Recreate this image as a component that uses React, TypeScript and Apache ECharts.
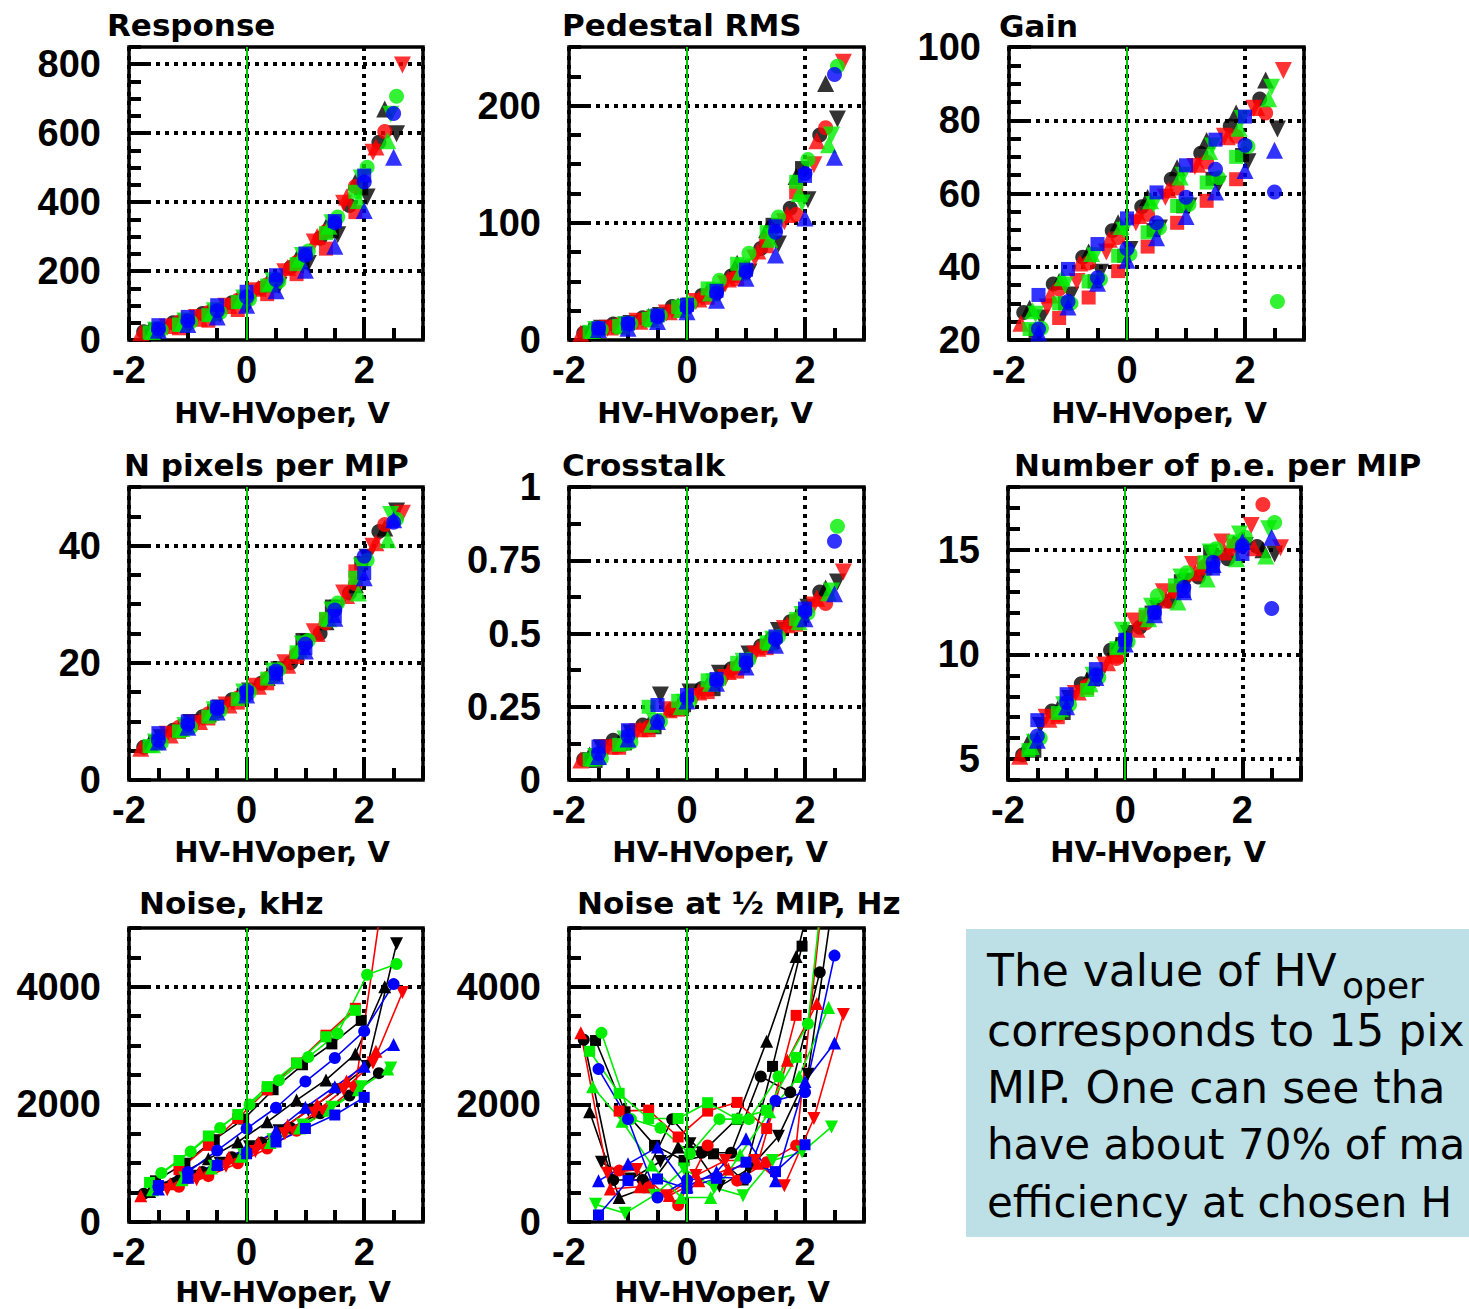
import React, { useEffect, useRef } from "react";
import * as echarts from "echarts";

const W = 1469;
const H = 1309;

// ---- series identity (colour / marker) ----
const SERIES_COLOR = ["black", "black", "black", "black", "red", "red", "red", "red", "green", "green", "green", "green", "blue", "blue", "blue"];
const SERIES_SHAPE = ["circle", "square", "up", "down", "circle", "square", "up", "down", "circle", "square", "up", "down", "circle", "square", "up"];

// ---- x values (HV - HVoper, V) per series ----
const X_BLK_CIRCLE = [-1.75, -1.25, -0.75, -0.25, 0.25, 0.75, 1.25, 1.75, 2.25];
const X_BLK_SQUARE = [-1.55, -1.05, -0.55, -0.05, 0.45, 0.95, 1.45, 1.95];
const X_BLK_UP = [-1.65, -1.15, -0.65, -0.15, 0.35, 0.85, 1.35, 1.85, 2.35];
const X_BLK_DOWN = [-1.45, -0.95, -0.45, 0.05, 0.55, 1.05, 1.55, 2.05, 2.55];
const X_RED_CIRCLE = [-1.15, -0.65, -0.15, 0.35, 0.85, 1.35, 1.85, 2.35];
const X_RED_SQUARE = [-1.15, -0.65, -0.15, 0.35, 0.85, 1.35, 1.85];
const X_RED_UP = [-1.8, -1.3, -0.8, -0.3, 0.2, 0.7, 1.2, 1.7, 2.2];
const X_RED_DOWN = [-1.35, -0.85, -0.35, 0.15, 0.65, 1.15, 1.65, 2.15, 2.65];
const X_GRN_CIRCLE = [-1.45, -0.95, -0.45, 0.05, 0.55, 1.05, 1.55, 2.05, 2.55];
const X_GRN_SQUARE = [-1.65, -1.15, -0.65, -0.15, 0.35, 0.85, 1.35, 1.85];
const X_GRN_UP = [-1.6, -1.1, -0.6, -0.1, 0.4, 0.9, 1.4, 1.9, 2.4];
const X_GRN_DOWN = [-1.55, -1.05, -0.55, -0.05, 0.45, 0.95, 1.45, 1.95, 2.45];
const X_BLU_CIRCLE = [-1.5, -1.0, -0.5, 0.0, 0.5, 1.0, 1.5, 2.0, 2.5];
const X_BLU_SQUARE = [-1.5, -1.0, -0.5, 0.0, 0.5, 1.0, 1.5, 2.0];
const X_BLU_UP = [-1.5, -1.0, -0.5, 0.0, 0.5, 1.0, 1.5, 2.0, 2.5];

const SERIES_X = [
  X_BLK_CIRCLE, X_BLK_SQUARE, X_BLK_UP, X_BLK_DOWN,
  X_RED_CIRCLE, X_RED_SQUARE, X_RED_UP, X_RED_DOWN,
  X_GRN_CIRCLE, X_GRN_SQUARE, X_GRN_UP, X_GRN_DOWN,
  X_BLU_CIRCLE, X_BLU_SQUARE, X_BLU_UP,
];

// ---- y values per panel (rows follow the series order above) ----
const RESPONSE_Y = [
  [24, 50, 77, 108, 150, 210, 295, 390, 574],
  [30, 52, 78, 112, 158, 225, 315, 440],
  [29, 55, 82, 118, 165, 235, 328, 458, 670],
  [28, 50, 75, 112, 158, 222, 305, 415, 598],
  [52, 80, 115, 160, 225, 315, 445, 605],
  [34, 56, 87, 133, 191, 265, 371],
  [21, 42, 63, 100, 150, 210, 300, 415, 560],
  [38, 65, 98, 143, 198, 284, 397, 545, 798],
  [29, 52, 80, 118, 170, 258, 357, 501, 707],
  [22, 45, 72, 110, 158, 220, 310, 430],
  [25, 48, 78, 115, 165, 235, 330, 405, 578],
  [28, 55, 85, 122, 172, 245, 340, 470, 655],
  [32, 55, 85, 125, 175, 245, 340, 458, 657],
  [43, 67, 101, 140, 188, 251, 345, 477],
  [28, 45, 67, 101, 143, 202, 272, 376, 530],
];

const PEDESTAL_Y = [
  [6, 13.7, 19, 28.5, 38, 54.7, 78, 112.5, 175],
  [9, 14, 20, 29, 42, 62, 98.3, 146.7],
  [8.5, 13, 20, 29, 42, 65.5, 94, 139.6, 218.8],
  [10, 14, 21, 29, 40, 58, 82, 119.7, 188.6],
  [13, 19, 28, 38.5, 55, 85, 107, 181],
  [11, 17, 25, 36, 52, 80, 126],
  [5.7, 11, 16, 24, 35, 52, 76, 107, 170],
  [10, 16, 23, 32.8, 47.9, 70, 101, 149.6, 237],
  [9, 14, 21, 31, 51, 74, 105, 154, 233.6],
  [7, 12, 18, 28, 44, 65, 92, 135],
  [8, 12, 18, 26, 40, 58, 86, 125, 166.7],
  [9, 13, 19, 28, 42, 62, 88, 117, 175],
  [10, 14, 20, 28, 40, 58, 92, 142, 226.5],
  [10, 14, 21, 30, 42, 60, 97, 140],
  [9, 10, 15.7, 24, 34, 52.7, 72.6, 104, 156],
];

const GAIN_Y = [
  [27.5, 35.3, 42.6, 49.8, 56.4, 63.9, 71, 78.4, 85.8],
  [22.5, 30, 36, 43, 50, 56.5, 64, 70.5],
  [28.7, 36, 44, 52, 58.9, 67, 74.5, 82, 91],
  [26, 32.3, 38.5, 44.7, 50.6, 56.6, 62.5, 68.7, 77.6],
  [33.9, 41, 48, 54.3, 61.5, 68.6, 75.6, 82],
  [26, 31.6, 38.8, 45.5, 52, 58, 63.9],
  [24.6, 32.3, 41, 47.5, 54, 61, 68, 75.5, 83.5],
  [29, 36, 44, 52, 59, 67.4, 75.6, 83.3, 93.6],
  [23.2, 30, 36.5, 43.5, 50.6, 57, 64.3, 72.8, 30.5],
  [23, 30, 36, 43, 49.4, 56.6, 63, 70],
  [28, 37, 43.6, 51, 58, 64.5, 71.5, 77.8, 85.9],
  [27, 35, 43, 50, 57, 65, 73, 80.5, 89],
  [23, 30.5, 37, 44.9, 52, 59, 66.6, 73.2, 60.4],
  [32.3, 39.4, 46.2, 53.2, 60.3, 67.7, 74.7, 81],
  [22, 29, 35.5, 41.8, 47.9, 53.7, 60.4, 66.3, 71.8],
];

const NPIX_Y = [
  [5.6, 8.5, 10.8, 13.7, 16.5, 20, 25, 31.9, 42.4],
  [6.5, 9.2, 11.8, 14.5, 18, 23.9, 29.6, 37],
  [6.3, 8.8, 11.3, 14.2, 17.5, 21.8, 27, 33.3, 43],
  [7.2, 9.8, 12.3, 15.2, 18.8, 23.5, 29.3, 38, 45.9],
  [9.0, 11.3, 14, 17.3, 21.5, 26.8, 33.5, 43.6],
  [8.2, 10.5, 13.2, 16.5, 21, 27.4, 35.6],
  [5.4, 7.7, 10, 12.8, 16, 19.6, 25, 31.5, 40.5],
  [7.8, 9.7, 12.8, 16, 20, 25.3, 31.9, 39.9, 45.5],
  [6.3, 9, 11.8, 15, 18.8, 23.8, 30.2, 37.5, 44.5],
  [5.8, 8.3, 10.8, 13.8, 17.3, 21.8, 27.5, 34.5],
  [6, 8.8, 11.5, 14.5, 18, 22.3, 27.5, 31.9, 41],
  [6.5, 9.3, 12, 15, 18.6, 23.2, 29, 36.5, 45.3],
  [6.8, 9.5, 12.2, 15.2, 18.6, 23.2, 29, 38.2, 44],
  [8, 10, 12.5, 14.8, 18.2, 22.5, 28, 35.3],
  [6.5, 9.0, 11.6, 14.5, 17.8, 22.0, 27.6, 34.5, 44.4],
];

const XTALK_Y = [
  [0.07, 0.136, 0.1875, 0.24, 0.3125, 0.38, 0.457, 0.54, 0.642],
  [0.065, 0.125, 0.18, 0.255, 0.31, 0.39, 0.47, 0.56],
  [0.085, 0.13, 0.19, 0.25, 0.325, 0.395, 0.475, 0.555, 0.655],
  [0.11, 0.16, 0.29, 0.3, 0.364, 0.43, 0.51, 0.59, 0.676],
  [0.116, 0.18, 0.245, 0.31, 0.385, 0.46, 0.545, 0.602],
  [0.11, 0.17, 0.24, 0.3, 0.37, 0.45, 0.53],
  [0.068, 0.115, 0.175, 0.24, 0.3, 0.37, 0.45, 0.53, 0.62],
  [0.11, 0.165, 0.24, 0.285, 0.35, 0.43, 0.517, 0.597, 0.71],
  [0.074, 0.13, 0.2, 0.27, 0.34, 0.41, 0.49, 0.57, 0.866],
  [0.07, 0.12, 0.25, 0.27, 0.34, 0.4, 0.47, 0.55],
  [0.075, 0.13, 0.19, 0.25, 0.33, 0.4, 0.47, 0.54, 0.639],
  [0.08, 0.14, 0.2, 0.265, 0.335, 0.405, 0.48, 0.565, 0.645],
  [0.09, 0.15, 0.2, 0.28, 0.34, 0.4, 0.48, 0.575, 0.815],
  [0.114, 0.17, 0.256, 0.29, 0.345, 0.41, 0.49, 0.585],
  [0.08, 0.14, 0.2, 0.27, 0.33, 0.386, 0.46, 0.55, 0.636],
];

const PE_Y = [
  [5.2, 7.3, 8.6, 10.2, 11.3, 12.55, 13.7, 14.57, 15.16],
  [5.4, 7.2, 8.8, 10.5, 12.0, 13.5, 14.9, 15.3],
  [5.83, 7.4, 8.8, 10.4, 11.8, 13.1, 14.2, 15.3, 15.0],
  [6.6, 7.9, 8.9, 11.0, 12.2, 13.5, 14.6, 15.2, 14.8],
  [7.1, 8.5, 9.8, 11.5, 13.06, 14.2, 15.05, 17.16],
  [7.0, 8.4, 9.9, 11.8, 13.0, 14.1, 15.2],
  [5.14, 6.9, 8.2, 9.6, 11.2, 12.6, 13.9, 14.9, 15.1],
  [7.0, 8.13, 9.5, 11.6, 13.0, 14.3, 15.37, 16.16, 15.1],
  [6.0, 7.6, 8.9, 10.6, 12.8, 13.9, 15.05, 15.6, 16.3],
  [5.43, 7.2, 8.3, 10.3, 11.9, 13.3, 14.4, 15.4],
  [5.6, 7.4, 8.6, 10.44, 11.7, 12.5, 13.6, 14.57, 14.7],
  [5.8, 7.6, 9.0, 11.15, 12.3, 13.7, 14.9, 15.76, 16.0],
  [6.1, 7.7, 9.0, 10.7, 12.0, 13.2, 14.4, 15.2, 12.2],
  [6.86, 8.1, 9.3, 10.7, 12.0, 13.03, 14.1, 14.8],
  [5.9, 7.5, 8.9, 10.5, 11.9, 13.0, 14.3, 15.4, 15.6],
];

const NOISE_Y = [
  [480, 650, 850, 1100, 1350, 1600, 1850, 2150, 2531],
  [700, 1000, 1400, 1750, 2250, 2674, 3029, 3429],
  [520, 800, 1074, 1360, 1703, 2074, 2417, 2857, 4000],
  [580, 780, 1000, 1280, 1550, 1900, 2250, 2646, 4731],
  [600, 780, 1000, 1250, 1550, 1900, 2300, 5800],
  [891, 1303, 1760, 2246, 2703, 3177, 3634],
  [446, 650, 850, 1100, 1350, 1650, 2000, 2400, 2903],
  [550, 720, 950, 1200, 1500, 1850, 2250, 2703, 3903],
  [834, 1200, 1600, 2000, 2411, 2806, 3206, 4206, 4388],
  [674, 1046, 1463, 1829, 2303, 2703, 3150, 3600],
  [550, 720, 920, 1120, 1350, 1600, 1900, 2250, 2600],
  [600, 750, 950, 1150, 1400, 1650, 1950, 2300, 2617],
  [600, 850, 1217, 1589, 1943, 2389, 2789, 3246, 4046],
  [620, 760, 960, 1160, 1360, 1590, 1820, 2120],
  [560, 760, 1000, 1250, 1550, 1950, 2300, 2650, 3017],
];

const NOISE_HALF_Y = [
  [3100, 714, 714, 1749, 1177, 1177, 2474, 2206, 4246],
  [3086, 1874, 1303, 1046, 1160, 714, 2646, 4691],
  [1874, 417, 600, 1274, 1274, 1760, 3074, 4514, 6500],
  [1017, 731, 1029, 1331, 606, 903, 1457, 2514, 6000],
  [874, 589, 286, 1303, 703, 1017, 1303, 6000],
  [1886, 1903, 1446, 1886, 2034, 1589, 3514],
  [3220, 560, 600, 450, 700, 900, 1000, 2750, 3714],
  [830, 891, 446, 789, 1046, 1046, 617, 1760, 3531],
  [3217, 1750, 1600, 1160, 1749, 1749, 2474, 3371, 8000],
  [2903, 2189, 1760, 1760, 2029, 1750, 1900, 2800],
  [2300, 1714, 971, 417, 417, 1143, 1874, 2474, 3646],
  [300, 149, 457, 903, 589, 446, 1046, 1189, 1617],
  [2600, 1749, 417, 714, 760, 743, 2063, 2206, 4531],
  [120, 703, 731, 571, 743, 1017, 857, 1314],
  [700, 989, 1274, 600, 850, 1417, 703, 2389, 3046],
];

// ---- texts ----
const PANEL_TITLES = ["Response", "Pedestal RMS", "Gain", "N pixels per MIP", "Crosstalk", "Number of p.e. per MIP", "Noise, kHz", "Noise at \u00BD MIP, Hz"];
const X_AXIS_TITLE = "HV-HVoper, V";
// the note is cut by the right edge of the slide in the reference: only the visible part is kept
const NOTE_LINES = [
  "The value of HV",
  "corresponds to 15 pix",
  "MIP. One can see tha",
  "have about 70% of ma",
  "efficiency at chosen H",
];
const NOTE_SUB = "oper";

// ---- layout / axis configuration ----
type Panel = {
  data: number[][];
  grid: [number, number, number, number];
  yMin: number;
  yMax: number;
  yMajor: number | null;
  ySplit?: number;
  yMinor: number;
  yGridLines: number[];
  hideMin: boolean;
  hideMax: boolean;
  lines: boolean;
  titlePos: [number, number];
  namePos: [number, number];
};

const PANELS: Panel[] = [
  { data: RESPONSE_Y, grid: [129, 47, 294, 293], yMin: 0, yMax: 850, yMajor: 200, yMinor: 50, yGridLines: [200, 400, 600, 800], hideMin: false, hideMax: true, lines: false, titlePos: [107, 25], namePos: [282, 413] },
  { data: PEDESTAL_Y, grid: [569, 47, 295, 293], yMin: 0, yMax: 250, yMajor: 100, yMinor: 25, yGridLines: [100, 200], hideMin: false, hideMax: true, lines: false, titlePos: [562, 25], namePos: [705, 413] },
  { data: GAIN_Y, grid: [1009, 47, 295, 293], yMin: 20, yMax: 100, yMajor: 20, yMinor: 5, yGridLines: [40, 60, 80], hideMin: false, hideMax: false, lines: false, titlePos: [999, 26], namePos: [1159, 413] },
  { data: NPIX_Y, grid: [129, 487, 294, 293], yMin: 0, yMax: 50, yMajor: 20, yMinor: 5, yGridLines: [20, 40], hideMin: false, hideMax: true, lines: false, titlePos: [124, 465], namePos: [282, 852] },
  { data: XTALK_Y, grid: [569, 487, 295, 293], yMin: 0, yMax: 1, yMajor: 0.25, yMinor: 0.125, yGridLines: [0.25, 0.5, 0.75], hideMin: false, hideMax: false, lines: false, titlePos: [562, 465], namePos: [720, 852] },
  { data: PE_Y, grid: [1008, 487, 293, 293], yMin: 4, yMax: 18, yMajor: null, ySplit: 3, yMinor: 1, yGridLines: [5, 10, 15], hideMin: true, hideMax: true, lines: false, titlePos: [1014, 465], namePos: [1158, 852] },
  { data: NOISE_Y, grid: [129, 928, 294, 294], yMin: 0, yMax: 5000, yMajor: 2000, yMinor: 500, yGridLines: [2000, 4000], hideMin: false, hideMax: true, lines: true, titlePos: [139, 903], namePos: [283, 1292] },
  { data: NOISE_HALF_Y, grid: [569, 928, 295, 294], yMin: 0, yMax: 5000, yMajor: 2000, yMinor: 500, yGridLines: [2000, 4000], hideMin: false, hideMax: true, lines: true, titlePos: [577, 903], namePos: [722, 1292] },
];

const COLOR_HEX: Record<string, string> = {
  black: "#000000",
  red: "#ff0000",
  green: "#00ee00",
  blue: "#0000ff",
};

const TITLE_FONT = '"DejaVu Sans", sans-serif';
const TICK_FONT = '"Liberation Sans", Arial, sans-serif';

function textEl(text: string, x: number, y: number, size: number, weight: string, align: string, lineHeight?: number) {
  return {
    type: "text",
    x,
    y,
    silent: true,
    style: {
      text,
      fontSize: size,
      fontWeight: weight,
      fontFamily: TITLE_FONT,
      fill: "#000",
      align,
      verticalAlign: "middle",
      textAlign: align,
      textVerticalAlign: "middle",
      lineHeight: lineHeight ?? size,
    },
  };
}

function plainNumber(v: number) {
  return String(Math.round(v * 1000) / 1000);
}

function buildOption() {
  const grids: any[] = [];
  const xAxes: any[] = [];
  const yAxes: any[] = [];
  const series: any[] = [];
  const graphics: any[] = [];

  const majorTick = { show: true, inside: true, length: 22, lineStyle: { color: "#000", width: 4 } };
  const minorTick = { show: true, inside: true, length: 12, lineStyle: { color: "#000", width: 4 } };
  const dotStyle = { color: "#000", width: 4, type: [4, 5] };
  const labelBase = { color: "#000", fontSize: 38, fontWeight: "bold", fontFamily: TICK_FONT, formatter: plainNumber };

  PANELS.forEach((p, i) => {
    const [left, top, width, height] = p.grid;
    grids.push({
      left, top, width, height,
      show: true,
      borderColor: "#000",
      borderWidth: 3.5,
      backgroundColor: "rgba(0,0,0,0)",
      containLabel: false,
      outerBoundsMode: "none",
    });

    // x axes: major (labels, grid) + minor (ticks only)
    xAxes.push({
      type: "value", gridIndex: i, position: "bottom", min: -2, max: 3, interval: 2,
      axisLine: { show: false, onZero: false },
      axisTick: majorTick,
      axisLabel: { ...labelBase, margin: 11, showMaxLabel: false, showMinLabel: true },
      splitLine: { show: true, lineStyle: dotStyle },
    });
    xAxes.push({
      type: "value", gridIndex: i, position: "bottom", min: -2, max: 3, interval: 0.5,
      axisLine: { show: false, onZero: false },
      axisTick: minorTick,
      axisLabel: { show: false },
      splitLine: { show: false },
    });

    const yMajorAxis: any = {
      type: "value", gridIndex: i, position: "left", min: p.yMin, max: p.yMax,
      axisLine: { show: false, onZero: false },
      axisTick: majorTick,
      axisLabel: { ...labelBase, margin: 28, showMaxLabel: !p.hideMax, showMinLabel: !p.hideMin },
      splitLine: { show: false },
    };
    if (p.yMajor !== null) yMajorAxis.interval = p.yMajor;
    else yMajorAxis.splitNumber = p.ySplit;
    yAxes.push(yMajorAxis);
    yAxes.push({
      type: "value", gridIndex: i, position: "left", min: p.yMin, max: p.yMax, interval: p.yMinor,
      axisLine: { show: false, onZero: false },
      axisTick: minorTick,
      axisLabel: { show: false },
      splitLine: { show: false },
    });

    p.data.forEach((ys, k) => {
      const xs = SERIES_X[k];
      const color = COLOR_HEX[SERIES_COLOR[k]];
      const shape = SERIES_SHAPE[k];
      const small = p.lines;
      const symbol = shape === "circle" ? "circle" : shape === "square" ? "rect" : "triangle";
      const size = shape === "circle" ? (small ? 12 : 15) : shape === "square" ? (small ? 11 : 14) : (small ? 13 : 17);
      const s: any = {
        type: p.lines ? "line" : "scatter",
        xAxisIndex: 2 * i,
        yAxisIndex: 2 * i,
        data: xs.map((xv, j) => [xv, ys[j]]),
        symbol,
        symbolSize: size,
        symbolRotate: shape === "down" ? 180 : 0,
        showSymbol: true,
        itemStyle: { color },
        lineStyle: { color, width: 1.6 },
        clip: true,
        silent: true,
        animation: false,
        z: 3,
      };
      if (k === 0) {
        // green line marking HV = HVoper
        s.markLine = {
          silent: true,
          symbol: ["none", "none"],
          label: { show: false },
          lineStyle: { color: "#00cc00", width: 2, type: "solid" },
          data: [{ xAxis: 0 }],
          animation: false,
          z: 4,
        };
      }
      if (k === 1) {
        // dotted horizontal grid at the labelled values
        s.markLine = {
          silent: true,
          symbol: ["none", "none"],
          label: { show: false },
          lineStyle: dotStyle,
          data: p.yGridLines.map((v) => ({ yAxis: v })),
          animation: false,
          z: 1,
        };
      }
      series.push(s);
    });

    graphics.push(textEl(PANEL_TITLES[i], p.titlePos[0], p.titlePos[1], 31, "bold", "left"));
    graphics.push(textEl(X_AXIS_TITLE, p.namePos[0], p.namePos[1], 29, "bold", "center"));
  });

  // note box
  graphics.push({
    type: "rect",
    silent: true,
    shape: { x: 966, y: 929, width: 520, height: 308 },
    style: { fill: "#bce0e5" },
    z: 0,
  });
  const lineY = [970, 1030, 1087, 1144, 1202];
  const lineSize = [44, 44, 44, 42, 42];
  NOTE_LINES.forEach((t, j) => {
    const el: any = textEl(t, 987, lineY[j], lineSize[j], "normal", "left", 40);
    el.z = 2;
    graphics.push(el);
  });
  const sub: any = textEl(NOTE_SUB, 1342, 985, 36, "normal", "left", 24);
  sub.z = 2;
  graphics.push(sub);

  return {
    animation: false,
    backgroundColor: "#ffffff",
    grid: grids,
    xAxis: xAxes,
    yAxis: yAxes,
    series,
    graphic: { elements: graphics },
  };
}

export default function App() {
  const ref = useRef<HTMLDivElement>(null);
  useEffect(() => {
    if (!ref.current) return;
    const chart = echarts.init(ref.current, undefined, { renderer: "svg", width: W, height: H });
    chart.setOption(buildOption() as any);
    return () => chart.dispose();
  }, []);
  return (
    <div
      ref={ref}
      style={{ position: "absolute", left: 0, top: 0, width: W, height: H, background: "#fff", overflow: "hidden" }}
    />
  );
}
